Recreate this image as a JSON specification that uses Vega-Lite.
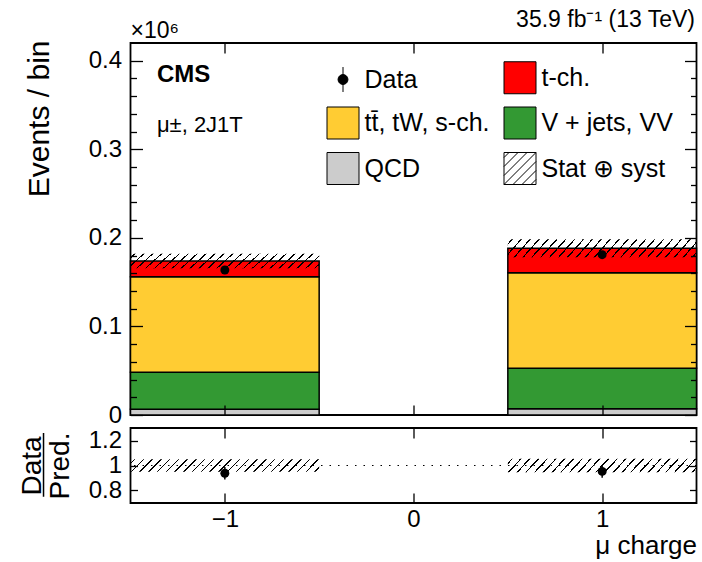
{
"$schema":"https://vega.github.io/schema/vega-lite/v6.json",
"autosize":{"type":"none"},
"padding":{"left":130.5,"top":43,"right":571.5,"bottom":519},
"background":"white",
"bounds":"flush",
"spacing":13,
"datasets":{
"stack":[
{"lo":-1.5,"hi":-0.5,"process":"QCD","bottom":0,"top":0.0066},
{"lo":-1.5,"hi":-0.5,"process":"V + jets, VV","bottom":0.0066,"top":0.0482},
{"lo":-1.5,"hi":-0.5,"process":"tt\u0304, tW, s-ch.","bottom":0.0482,"top":0.1561},
{"lo":-1.5,"hi":-0.5,"process":"t-ch.","bottom":0.1561,"top":0.1739},
{"lo":0.5,"hi":1.5,"process":"QCD","bottom":0,"top":0.0070},
{"lo":0.5,"hi":1.5,"process":"V + jets, VV","bottom":0.0070,"top":0.0527},
{"lo":0.5,"hi":1.5,"process":"tt\u0304, tW, s-ch.","bottom":0.0527,"top":0.1607},
{"lo":0.5,"hi":1.5,"process":"t-ch.","bottom":0.1607,"top":0.1882}
],
"unc":[{"lo":-1.5,"hi":-0.5,"down":0.1657,"up":0.1821},{"lo":0.5,"hi":1.5,"down":0.1780,"up":0.1984}],
"data":[{"charge":-1,"events":0.1637,"elo":0.1633,"ehi":0.1641},{"charge":1,"events":0.1810,"elo":0.1806,"ehi":0.1814}],
"ratio":[{"charge":-1,"ratio":0.938,"lo":0.888,"hi":0.988},{"charge":1,"ratio":0.953,"lo":0.903,"hi":1.003}],
"runc":[{"lo":-1.5,"hi":-0.5,"down":0.950,"up":1.050},{"lo":0.5,"hi":1.5,"down":0.946,"up":1.054}]
},
"vconcat":[
{
"width":566,"height":372,
"resolve":{"axis":{"x":"independent","y":"independent"}},
"layer":[
{"data":{"name":"stack"},"mark":{"type":"rect","stroke":"black","strokeWidth":1.5},
"encoding":{
"x":{"field":"lo","type":"quantitative","scale":{"domain":[-1.5,1.5],"nice":false,"zero":false},"axis":{"orient":"bottom","labels":false,"tickSize":-10,"values":[-1,0,1],"title":null,"zindex":1}},
"x2":{"field":"hi"},
"y":{"field":"bottom","type":"quantitative","scale":{"domain":[0,0.42],"nice":false,"zero":false},"axis":{"orient":"left","ticks":false,"values":[0,0.1,0.2,0.3,0.4],"format":"~g","labelFlush":false,"labelFontSize":24,"labelPadding":9,"title":"Events / bin","titleFontSize":30,"titleAngle":270,"titleAlign":"right","titleBaseline":"alphabetic","titleX":-82,"titleY":-3}},
"y2":{"field":"top"},
"color":{"field":"process","type":"nominal",
"scale":{"domain":["Data","tt\u0304, tW, s-ch.","QCD","t-ch.","V + jets, VV","Stat \u2295 syst"],"range":["#000000","#FFCC33","#CCCCCC","#FF0000","#339933","#FFFFFF"]},
"legend":{"orient":"none","legendX":196,"legendY":18,"columns":2,"title":null,"padding":0,"symbolSize":1024,"symbolType":"square","symbolStrokeColor":"black","symbolStrokeWidth":1,"symbolOpacity":1,"labelFontSize":25,"labelColor":"black","labelOffset":5,"labelLimit":400,"columnPadding":11,"rowPadding":8.5,
"encoding":{"symbols":{
"shape":{"condition":[
{"test":"datum.value === 'Data'","value":"M0,-0.78L0,0.78M0.31,0A0.31,0.31,0,1,1,-0.31,0A0.31,0.31,0,1,1,0.31,0Z"},
{"test":"datum.value === 'Stat \u2295 syst'","value":"M-1,-1H1V1H-1ZM-1,-0.6875L-0.6875,-1M-1,-0.125L-0.125,-1M-1,0.4375L0.4375,-1M-1,1L1,-1M-0.4375,1L1,-0.4375M0.125,1L1,0.125M0.6875,1L1,0.6875"}
],"value":"square"},
"stroke":{"value":"black"},
"strokeWidth":{"value":1},
"opacity":{"value":1}
}}}}
}},
{"data":{"name":"unc"},"mark":{"type":"rect","fill":{"gradient":"linear","x1":0,"y1":0,"x2":1.0771,"y2":0.0913,"stops":[
{"offset":0.0177,"color":"rgba(0,0,0,0)"},{"offset":0.0177,"color":"#000"},{"offset":0.0257,"color":"#000"},{"offset":0.0257,"color":"rgba(0,0,0,0)"},
{"offset":0.0612,"color":"rgba(0,0,0,0)"},{"offset":0.0612,"color":"#000"},{"offset":0.0692,"color":"#000"},{"offset":0.0692,"color":"rgba(0,0,0,0)"},
{"offset":0.1047,"color":"rgba(0,0,0,0)"},{"offset":0.1047,"color":"#000"},{"offset":0.1127,"color":"#000"},{"offset":0.1127,"color":"rgba(0,0,0,0)"},
{"offset":0.1482,"color":"rgba(0,0,0,0)"},{"offset":0.1482,"color":"#000"},{"offset":0.1562,"color":"#000"},{"offset":0.1562,"color":"rgba(0,0,0,0)"},
{"offset":0.1917,"color":"rgba(0,0,0,0)"},{"offset":0.1917,"color":"#000"},{"offset":0.1997,"color":"#000"},{"offset":0.1997,"color":"rgba(0,0,0,0)"},
{"offset":0.2351,"color":"rgba(0,0,0,0)"},{"offset":0.2351,"color":"#000"},{"offset":0.2431,"color":"#000"},{"offset":0.2431,"color":"rgba(0,0,0,0)"},
{"offset":0.2786,"color":"rgba(0,0,0,0)"},{"offset":0.2786,"color":"#000"},{"offset":0.2866,"color":"#000"},{"offset":0.2866,"color":"rgba(0,0,0,0)"},
{"offset":0.3221,"color":"rgba(0,0,0,0)"},{"offset":0.3221,"color":"#000"},{"offset":0.3301,"color":"#000"},{"offset":0.3301,"color":"rgba(0,0,0,0)"},
{"offset":0.3656,"color":"rgba(0,0,0,0)"},{"offset":0.3656,"color":"#000"},{"offset":0.3736,"color":"#000"},{"offset":0.3736,"color":"rgba(0,0,0,0)"},
{"offset":0.4090,"color":"rgba(0,0,0,0)"},{"offset":0.4090,"color":"#000"},{"offset":0.4170,"color":"#000"},{"offset":0.4170,"color":"rgba(0,0,0,0)"},
{"offset":0.4525,"color":"rgba(0,0,0,0)"},{"offset":0.4525,"color":"#000"},{"offset":0.4605,"color":"#000"},{"offset":0.4605,"color":"rgba(0,0,0,0)"},
{"offset":0.4960,"color":"rgba(0,0,0,0)"},{"offset":0.4960,"color":"#000"},{"offset":0.5040,"color":"#000"},{"offset":0.5040,"color":"rgba(0,0,0,0)"},
{"offset":0.5395,"color":"rgba(0,0,0,0)"},{"offset":0.5395,"color":"#000"},{"offset":0.5475,"color":"#000"},{"offset":0.5475,"color":"rgba(0,0,0,0)"},
{"offset":0.5830,"color":"rgba(0,0,0,0)"},{"offset":0.5830,"color":"#000"},{"offset":0.5910,"color":"#000"},{"offset":0.5910,"color":"rgba(0,0,0,0)"},
{"offset":0.6264,"color":"rgba(0,0,0,0)"},{"offset":0.6264,"color":"#000"},{"offset":0.6344,"color":"#000"},{"offset":0.6344,"color":"rgba(0,0,0,0)"},
{"offset":0.6699,"color":"rgba(0,0,0,0)"},{"offset":0.6699,"color":"#000"},{"offset":0.6779,"color":"#000"},{"offset":0.6779,"color":"rgba(0,0,0,0)"},
{"offset":0.7134,"color":"rgba(0,0,0,0)"},{"offset":0.7134,"color":"#000"},{"offset":0.7214,"color":"#000"},{"offset":0.7214,"color":"rgba(0,0,0,0)"},
{"offset":0.7569,"color":"rgba(0,0,0,0)"},{"offset":0.7569,"color":"#000"},{"offset":0.7649,"color":"#000"},{"offset":0.7649,"color":"rgba(0,0,0,0)"},
{"offset":0.8003,"color":"rgba(0,0,0,0)"},{"offset":0.8003,"color":"#000"},{"offset":0.8083,"color":"#000"},{"offset":0.8083,"color":"rgba(0,0,0,0)"},
{"offset":0.8438,"color":"rgba(0,0,0,0)"},{"offset":0.8438,"color":"#000"},{"offset":0.8518,"color":"#000"},{"offset":0.8518,"color":"rgba(0,0,0,0)"},
{"offset":0.8873,"color":"rgba(0,0,0,0)"},{"offset":0.8873,"color":"#000"},{"offset":0.8953,"color":"#000"},{"offset":0.8953,"color":"rgba(0,0,0,0)"},
{"offset":0.9308,"color":"rgba(0,0,0,0)"},{"offset":0.9308,"color":"#000"},{"offset":0.9388,"color":"#000"},{"offset":0.9388,"color":"rgba(0,0,0,0)"},
{"offset":0.9743,"color":"rgba(0,0,0,0)"},{"offset":0.9743,"color":"#000"},{"offset":0.9823,"color":"#000"},{"offset":0.9823,"color":"rgba(0,0,0,0)"}
]}},
"encoding":{
"x":{"field":"lo","type":"quantitative","scale":{"domain":[-1.5,1.5],"nice":false,"zero":false},"axis":{"orient":"top","labels":false,"tickSize":-10,"values":[-1,0,1],"title":null,"zindex":1}},
"x2":{"field":"hi"},
"y":{"field":"down","type":"quantitative","scale":{"domain":[0,0.42],"nice":false,"zero":false},"axis":{"orient":"left","labels":false,"tickSize":-12,"values":[0,0.1,0.2,0.3,0.4],"title":null,"zindex":1}},
"y2":{"field":"up"}
}},
{"data":{"name":"data"},"mark":{"type":"rule","strokeWidth":1.5,"color":"black"},
"encoding":{
"x":{"field":"charge","type":"quantitative","scale":{"domain":[-1.5,1.5],"nice":false,"zero":false},"axis":null},
"y":{"field":"elo","type":"quantitative","scale":{"domain":[0,0.42],"nice":false,"zero":false},"axis":{"orient":"right","labels":false,"tickSize":-12,"values":[0,0.1,0.2,0.3,0.4],"title":null,"zindex":1}},
"y2":{"field":"ehi"}
}},
{"data":{"name":"data"},"mark":{"type":"point","shape":"circle","filled":true,"size":80,"color":"black","opacity":1},
"encoding":{
"x":{"field":"charge","type":"quantitative","scale":{"domain":[-1.5,1.5],"nice":false,"zero":false},"axis":null},
"y":{"field":"events","type":"quantitative","scale":{"domain":[0,0.42],"nice":false,"zero":false},"axis":{"orient":"left","labels":false,"tickSize":-6,"values":[0.02,0.04,0.06,0.08,0.12,0.14,0.16,0.18,0.22,0.24,0.26,0.28,0.32,0.34,0.36,0.38],"title":null,"zindex":1}}
}},
{"data":{"values":[{}]},"mark":{"type":"text","text":"CMS","fontWeight":"bold","fontSize":24,"align":"left","baseline":"alphabetic","color":"black"},
"encoding":{
"x":{"datum":-1.36,"type":"quantitative","scale":{"domain":[-1.5,1.5],"nice":false,"zero":false},"axis":null},
"y":{"datum":0.3757,"type":"quantitative","scale":{"domain":[0,0.42],"nice":false,"zero":false},"axis":{"orient":"right","labels":false,"tickSize":-6,"values":[0.02,0.04,0.06,0.08,0.12,0.14,0.16,0.18,0.22,0.24,0.26,0.28,0.32,0.34,0.36,0.38],"title":null,"zindex":1}}
}},
{"data":{"values":[{}]},"mark":{"type":"text","text":"\u03bc\u00b1, 2J1T","fontSize":22,"align":"left","baseline":"alphabetic","color":"black"},
"encoding":{
"x":{"datum":-1.36,"type":"quantitative","scale":{"domain":[-1.5,1.5],"nice":false,"zero":false},"axis":null},
"y":{"datum":0.3195,"type":"quantitative","scale":{"domain":[0,0.42],"nice":false,"zero":false},"axis":null}
}},
{"data":{"values":[{}]},"mark":{"type":"text","text":"35.9 fb\u207b\u00b9 (13 TeV)","fontSize":23,"align":"right","baseline":"alphabetic","color":"black"},
"encoding":{
"x":{"datum":1.492,"type":"quantitative","scale":{"domain":[-1.5,1.5],"nice":false,"zero":false},"axis":null},
"y":{"datum":0.4381,"type":"quantitative","scale":{"domain":[0,0.42],"nice":false,"zero":false},"axis":null}
}},
{"data":{"values":[{}]},"mark":{"type":"text","text":"\u00d710\u2076","fontSize":23,"align":"left","baseline":"alphabetic","color":"black"},
"encoding":{
"x":{"datum":-1.5,"type":"quantitative","scale":{"domain":[-1.5,1.5],"nice":false,"zero":false},"axis":null},
"y":{"datum":0.4256,"type":"quantitative","scale":{"domain":[0,0.42],"nice":false,"zero":false},"axis":null}
}}
]
},
{
"width":566,"height":75,
"resolve":{"axis":{"x":"independent","y":"independent"}},
"layer":[
{"data":{"name":"runc"},"mark":{"type":"rect","fill":{"gradient":"linear","x1":0,"y1":0,"x2":1.0616,"y2":0.0703,"stops":[
{"offset":0.0177,"color":"rgba(0,0,0,0)"},{"offset":0.0177,"color":"#000"},{"offset":0.0257,"color":"#000"},{"offset":0.0257,"color":"rgba(0,0,0,0)"},
{"offset":0.0612,"color":"rgba(0,0,0,0)"},{"offset":0.0612,"color":"#000"},{"offset":0.0692,"color":"#000"},{"offset":0.0692,"color":"rgba(0,0,0,0)"},
{"offset":0.1047,"color":"rgba(0,0,0,0)"},{"offset":0.1047,"color":"#000"},{"offset":0.1127,"color":"#000"},{"offset":0.1127,"color":"rgba(0,0,0,0)"},
{"offset":0.1482,"color":"rgba(0,0,0,0)"},{"offset":0.1482,"color":"#000"},{"offset":0.1562,"color":"#000"},{"offset":0.1562,"color":"rgba(0,0,0,0)"},
{"offset":0.1917,"color":"rgba(0,0,0,0)"},{"offset":0.1917,"color":"#000"},{"offset":0.1997,"color":"#000"},{"offset":0.1997,"color":"rgba(0,0,0,0)"},
{"offset":0.2351,"color":"rgba(0,0,0,0)"},{"offset":0.2351,"color":"#000"},{"offset":0.2431,"color":"#000"},{"offset":0.2431,"color":"rgba(0,0,0,0)"},
{"offset":0.2786,"color":"rgba(0,0,0,0)"},{"offset":0.2786,"color":"#000"},{"offset":0.2866,"color":"#000"},{"offset":0.2866,"color":"rgba(0,0,0,0)"},
{"offset":0.3221,"color":"rgba(0,0,0,0)"},{"offset":0.3221,"color":"#000"},{"offset":0.3301,"color":"#000"},{"offset":0.3301,"color":"rgba(0,0,0,0)"},
{"offset":0.3656,"color":"rgba(0,0,0,0)"},{"offset":0.3656,"color":"#000"},{"offset":0.3736,"color":"#000"},{"offset":0.3736,"color":"rgba(0,0,0,0)"},
{"offset":0.4090,"color":"rgba(0,0,0,0)"},{"offset":0.4090,"color":"#000"},{"offset":0.4170,"color":"#000"},{"offset":0.4170,"color":"rgba(0,0,0,0)"},
{"offset":0.4525,"color":"rgba(0,0,0,0)"},{"offset":0.4525,"color":"#000"},{"offset":0.4605,"color":"#000"},{"offset":0.4605,"color":"rgba(0,0,0,0)"},
{"offset":0.4960,"color":"rgba(0,0,0,0)"},{"offset":0.4960,"color":"#000"},{"offset":0.5040,"color":"#000"},{"offset":0.5040,"color":"rgba(0,0,0,0)"},
{"offset":0.5395,"color":"rgba(0,0,0,0)"},{"offset":0.5395,"color":"#000"},{"offset":0.5475,"color":"#000"},{"offset":0.5475,"color":"rgba(0,0,0,0)"},
{"offset":0.5830,"color":"rgba(0,0,0,0)"},{"offset":0.5830,"color":"#000"},{"offset":0.5910,"color":"#000"},{"offset":0.5910,"color":"rgba(0,0,0,0)"},
{"offset":0.6264,"color":"rgba(0,0,0,0)"},{"offset":0.6264,"color":"#000"},{"offset":0.6344,"color":"#000"},{"offset":0.6344,"color":"rgba(0,0,0,0)"},
{"offset":0.6699,"color":"rgba(0,0,0,0)"},{"offset":0.6699,"color":"#000"},{"offset":0.6779,"color":"#000"},{"offset":0.6779,"color":"rgba(0,0,0,0)"},
{"offset":0.7134,"color":"rgba(0,0,0,0)"},{"offset":0.7134,"color":"#000"},{"offset":0.7214,"color":"#000"},{"offset":0.7214,"color":"rgba(0,0,0,0)"},
{"offset":0.7569,"color":"rgba(0,0,0,0)"},{"offset":0.7569,"color":"#000"},{"offset":0.7649,"color":"#000"},{"offset":0.7649,"color":"rgba(0,0,0,0)"},
{"offset":0.8003,"color":"rgba(0,0,0,0)"},{"offset":0.8003,"color":"#000"},{"offset":0.8083,"color":"#000"},{"offset":0.8083,"color":"rgba(0,0,0,0)"},
{"offset":0.8438,"color":"rgba(0,0,0,0)"},{"offset":0.8438,"color":"#000"},{"offset":0.8518,"color":"#000"},{"offset":0.8518,"color":"rgba(0,0,0,0)"},
{"offset":0.8873,"color":"rgba(0,0,0,0)"},{"offset":0.8873,"color":"#000"},{"offset":0.8953,"color":"#000"},{"offset":0.8953,"color":"rgba(0,0,0,0)"},
{"offset":0.9308,"color":"rgba(0,0,0,0)"},{"offset":0.9308,"color":"#000"},{"offset":0.9388,"color":"#000"},{"offset":0.9388,"color":"rgba(0,0,0,0)"},
{"offset":0.9743,"color":"rgba(0,0,0,0)"},{"offset":0.9743,"color":"#000"},{"offset":0.9823,"color":"#000"},{"offset":0.9823,"color":"rgba(0,0,0,0)"}
]}},
"encoding":{
"x":{"field":"lo","type":"quantitative","scale":{"domain":[-1.5,1.5],"nice":false,"zero":false},"axis":{"orient":"bottom","ticks":false,"values":[-1,0,1],"format":"d","labelFontSize":24,"labelPadding":4,"title":"\u03bc charge","titleFontSize":26,"titleAngle":0,"titleAlign":"right","titleBaseline":"alphabetic","titleX":566,"titleY":50}},
"x2":{"field":"hi"},
"y":{"field":"down","type":"quantitative","scale":{"domain":[0.7,1.3],"nice":false,"zero":false},"axis":{"orient":"left","ticks":false,"values":[0.8,1,1.2],"format":"~g","labelFlush":false,"labelFontSize":24,"labelPadding":9,"title":["Data","Pred."],"titleFontSize":28,"titleLineHeight":28,"titleAngle":270,"titleAlign":"center","titleBaseline":"alphabetic","titleX":-90,"titleY":37.5}},
"y2":{"field":"up"}
}},
{"data":{"values":[{}]},"mark":{"type":"rule","strokeDash":[1.5,7],"strokeWidth":1.2,"color":"black"},
"encoding":{"y":{"datum":1,"type":"quantitative","scale":{"domain":[0.7,1.3],"nice":false,"zero":false},"axis":null}}},
{"data":{"name":"ratio"},"mark":{"type":"rule","strokeWidth":1.5,"color":"black"},
"encoding":{
"x":{"field":"charge","type":"quantitative","scale":{"domain":[-1.5,1.5],"nice":false,"zero":false},"axis":{"orient":"bottom","labels":false,"tickSize":-10,"values":[-1,0,1],"title":null,"zindex":1}},
"y":{"field":"lo","type":"quantitative","scale":{"domain":[0.7,1.3],"nice":false,"zero":false},"axis":{"orient":"left","labels":false,"tickSize":-7,"values":[0.8,1,1.2],"title":null,"zindex":1}},
"y2":{"field":"hi"}
}},
{"data":{"name":"ratio"},"mark":{"type":"point","shape":"circle","filled":true,"size":80,"color":"black","opacity":1},
"encoding":{
"x":{"field":"charge","type":"quantitative","scale":{"domain":[-1.5,1.5],"nice":false,"zero":false},"axis":{"orient":"top","labels":false,"tickSize":-10,"values":[-1,0,1],"title":null,"zindex":1}},
"y":{"field":"ratio","type":"quantitative","scale":{"domain":[0.7,1.3],"nice":false,"zero":false},"axis":{"orient":"right","labels":false,"tickSize":-7,"values":[0.8,1,1.2],"title":null,"zindex":1}}
}},
{"data":{"values":[{}]},"mark":{"type":"rule","strokeWidth":1.5,"color":"black","clip":false},
"encoding":{
"x":{"datum":-1.961,"type":"quantitative","scale":{"domain":[-1.5,1.5],"nice":false,"zero":false},"axis":null},
"y":{"datum":1.26,"type":"quantitative","scale":{"domain":[0.7,1.3],"nice":false,"zero":false},"axis":null},
"y2":{"datum":0.75}
}}
]
}
],
"config":{
"font":"Liberation Sans",
"axis":{"grid":false,"domain":false,"tickColor":"black","tickWidth":1.3,"labelColor":"black","titleColor":"black","titleFontWeight":"normal","labelFont":"Liberation Sans","titleFont":"Liberation Sans"},
"legend":{"labelFont":"Liberation Sans"},
"view":{"stroke":"black","strokeWidth":1.8}
}
}
